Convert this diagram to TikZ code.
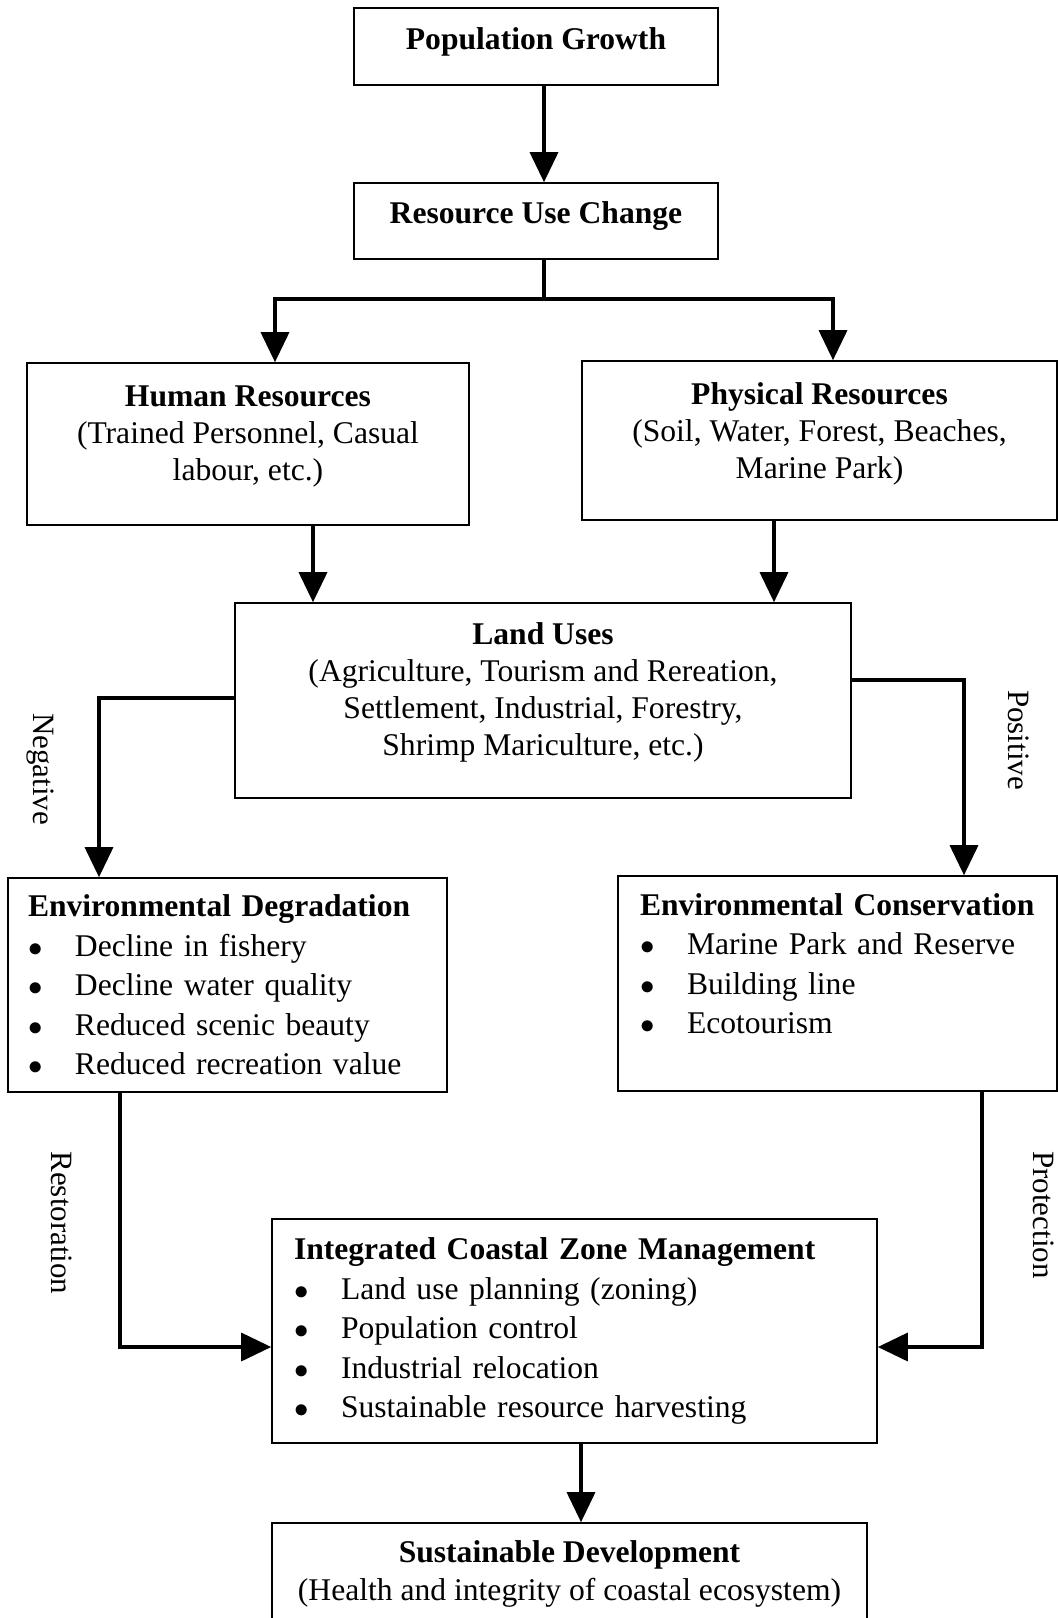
\documentclass[tikz,border=0pt]{standalone}
\usepackage{fontspec}
\setmainfont{Liberation Serif}
\usepackage{tikz}
\usetikzlibrary{positioning}
\usetikzlibrary{arrows.meta}
\newcommand{\bitem}{\makebox[23.5pt][l]{\hspace{0.2pt}$\bullet$}}
\newcommand{\lift}[1]{\rule[-#1]{0pt}{#1}}

\begin{document}
\begin{tikzpicture}[x=0.5pt, y=-0.5pt,
			box/.style = {
				draw, line width=0.8pt, align=center, inner sep=0pt,
				font=\fontsize{15.8}{18.6}\selectfont
			},
			listbox/.style = {
				draw, line width=0.8pt, align=left, inner xsep=11pt, inner ysep=0pt,
				font=\fontsize{15.8}{19.75}\selectfont
			},
			link/.style = {line width=1.7pt},
			flow/.style = {link, -{Triangle[length=15pt, width=14pt]}},
			side/.style = {rotate=-90, font=\fontsize{15.5}{18}\selectfont}]
			\useasboundingbox (0,0) rectangle (1058,1618);
			\fill[white] (0,0) rectangle (1058,1618);
			\node (pop) [box, minimum width=182pt, minimum height=38.5pt] at (536,46.5) {\textbf{Population Growth}\lift{7.6pt}};
			\node (res) [box, minimum width=182pt, minimum height=38pt] at (536,221) {\textbf{Resource Use Change}\lift{8.6pt}};
			\node (hum) [box, minimum width=221pt, minimum height=81pt] at (248,444) {\textbf{Human Resources}\\(Trained Personnel, Casual\\labour, etc.)\lift{10.6pt}};
			\node (phy) [box, minimum width=237.5pt, minimum height=79.5pt] at (819.5,440.5) {\textbf{Physical Resources}\\(Soil, Water, Forest, Beaches,\\Marine Park)\lift{10.1pt}};
			\node (land) [box, minimum width=308pt, minimum height=97.5pt] at (543,700.5) {\textbf{Land Uses}\\(Agriculture, Tourism and Rereation,\\Settlement, Industrial, Forestry,\\Shrimp Mariculture, etc.)\lift{11.6pt}};
			\node (deg) [listbox, inner xsep=10pt, text width=199.5pt, minimum height=107pt] at (227.5,985) {\mbox{\textbf{Environmental Degradation}}\\\bitem Decline in fishery\\\bitem Decline water quality\\\bitem Reduced scenic beauty\\\bitem Reduced recreation value};
			\node (cons) [listbox, text width=197.5pt, minimum height=107.5pt] at (837.5,983.5) {\mbox{\textbf{Environmental Conservation}}\\\bitem Marine Park and Reserve\\\bitem Building line\\\bitem Ecotourism\\\mbox{}};
			\node (iczm) [listbox, text width=280.5pt, minimum height=112pt] at (574.5,1331) {\mbox{\textbf{Integrated Coastal Zone Management}}\\\bitem Land use planning (zoning)\\\bitem Population control\\\bitem Industrial relocation\\\bitem Sustainable resource harvesting};
			\node (sd) [box, minimum width=297.5pt, minimum height=51pt] at (569.5,1574) {\textbf{Sustainable Development}\\(Health and integrity of coastal ecosystem)};
			\coordinate (split) at (544,299);
			\coordinate (hleft) at (275,299);
			\coordinate (hright) at (833,299);
			\draw[flow] (pop.south -| split) -- (res.north -| split);
			\draw[link] (res.south -| split) -- (split);
			\draw[flow] (split) -- (hleft) -- (hleft |- hum.north);
			\draw[flow] (split) -- (hright) -- (hright |- phy.north);
			\coordinate (hx) at (313,550);
			\coordinate (px) at (774,550);
			\draw[flow] (hx |- hum.south) -- (hx |- land.north);
			\draw[flow] (px |- phy.south) -- (px |- land.north);
			\coordinate (negbend) at (99,698);
			\coordinate (posbend) at (964,680);
			\draw[flow] (negbend -| land.west) -- (negbend) -- (negbend |- deg.north);
			\draw[flow] (posbend -| land.east) -- (posbend) -- (posbend |- cons.north);
			\node (negtxt) [side] at (40,769) {Negative};
			\node (postxt) [side] at (1019,740) {Positive};
			\coordinate (resbend) at (120,1347);
			\coordinate (probend) at (982,1347);
			\draw[flow] (resbend |- deg.south) -- (resbend) -- (resbend -| iczm.west);
			\draw[flow] (probend |- cons.south) -- (probend) -- (probend -| iczm.east);
			\node (restxt) [side] at (62,1223) {Restoration};
			\node (protxt) [side] at (1044,1215) {Protection};
			\coordinate (sx) at (581,1480);
			\draw[flow] (sx |- iczm.south) -- (sx |- sd.north);
		\end{tikzpicture}
\end{document}
